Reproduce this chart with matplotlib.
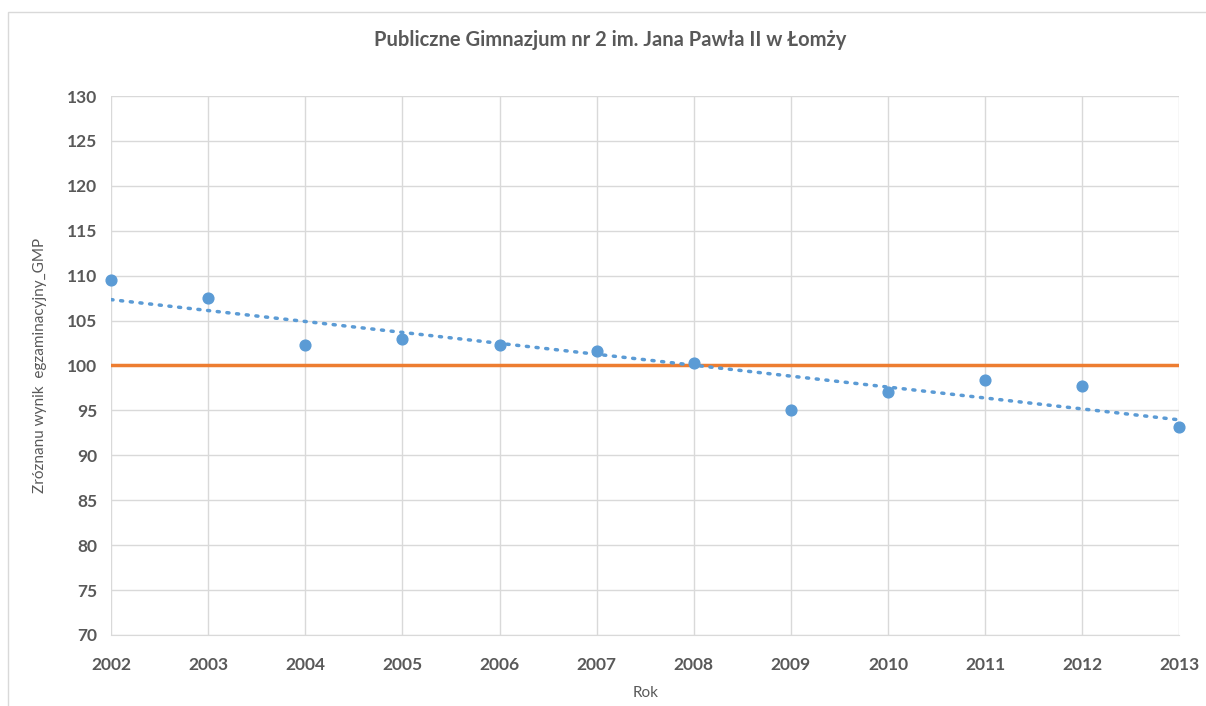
import numpy as np
import matplotlib.pyplot as plt
from matplotlib.patches import Rectangle

# --- Data ---
years = [2002, 2003, 2004, 2005, 2006, 2007, 2008, 2009, 2010, 2011, 2012, 2013]
values = [109.5, 107.5, 102.3, 102.9, 102.3, 101.6, 100.3, 95.0, 97.1, 98.4, 97.7, 93.1]
reference_level = 100
y_ticks = list(range(70, 131, 5))

title = "Publiczne Gimnazjum nr 2 im. Jana Pawła II w Łomży"
x_label = "Rok"
y_label = "Zróznanu wynik  egzaminacyjny_GMP"

# --- Style ---
plt.rcParams['font.family'] = ['Lato', 'DejaVu Sans']
text_color = '#595959'
blue = '#5b9bd5'
orange = '#ed7d31'
grid_color = '#d9d9d9'

fig = plt.figure(figsize=(12.06, 7.06), dpi=100)
ax = fig.add_axes([0.092, 0.1006, 0.886, 0.7634])

# chart frame like the spreadsheet chart area
fig.patches.append(Rectangle((8 / 1206, -0.01), 1.0, 1 - 12 / 706 + 0.01,
                             transform=fig.transFigure, fill=False,
                             edgecolor='#d9d9d9', linewidth=1))

ax.set_xlim(years[0], years[-1])
ax.set_ylim(70, 130)
ax.set_xticks(years)
ax.set_yticks(y_ticks)
ax.grid(True, color=grid_color, linewidth=1)
ax.set_axisbelow(True)
for side in ['top', 'right', 'left']:
    ax.spines[side].set_visible(False)
ax.spines['bottom'].set_color(grid_color)
ax.tick_params(axis='y', length=0, colors=text_color, labelsize=12.5, pad=10)
ax.tick_params(axis='x', length=0, colors=text_color, labelsize=12.5, pad=16)
for lbl in ax.get_xticklabels() + ax.get_yticklabels():
    lbl.set_fontweight('bold')

# reference line at 100
ax.axhline(reference_level, color=orange, linewidth=2.5, zorder=2)

# linear trendline through the points
coef = np.polyfit(years, values, 1)
xs = np.array([years[0], years[-1]])
ax.plot(xs, np.polyval(coef, xs), color=blue, linewidth=2.5,
        linestyle=(0, (0.6, 2.2)), dash_capstyle='round', zorder=3)

ax.scatter(years, values, s=60, color=blue, zorder=4, clip_on=False)

fig.text(610 / 1206, 1 - 40 / 706, title, fontsize=14.5, fontweight='bold',
         color=text_color, ha='center', va='center')
ax.set_xlabel(x_label, fontsize=11, color=text_color, labelpad=9)
ax.set_ylabel(y_label, fontsize=11, color=text_color, labelpad=14)

fig.savefig('out.png', dpi=100)
